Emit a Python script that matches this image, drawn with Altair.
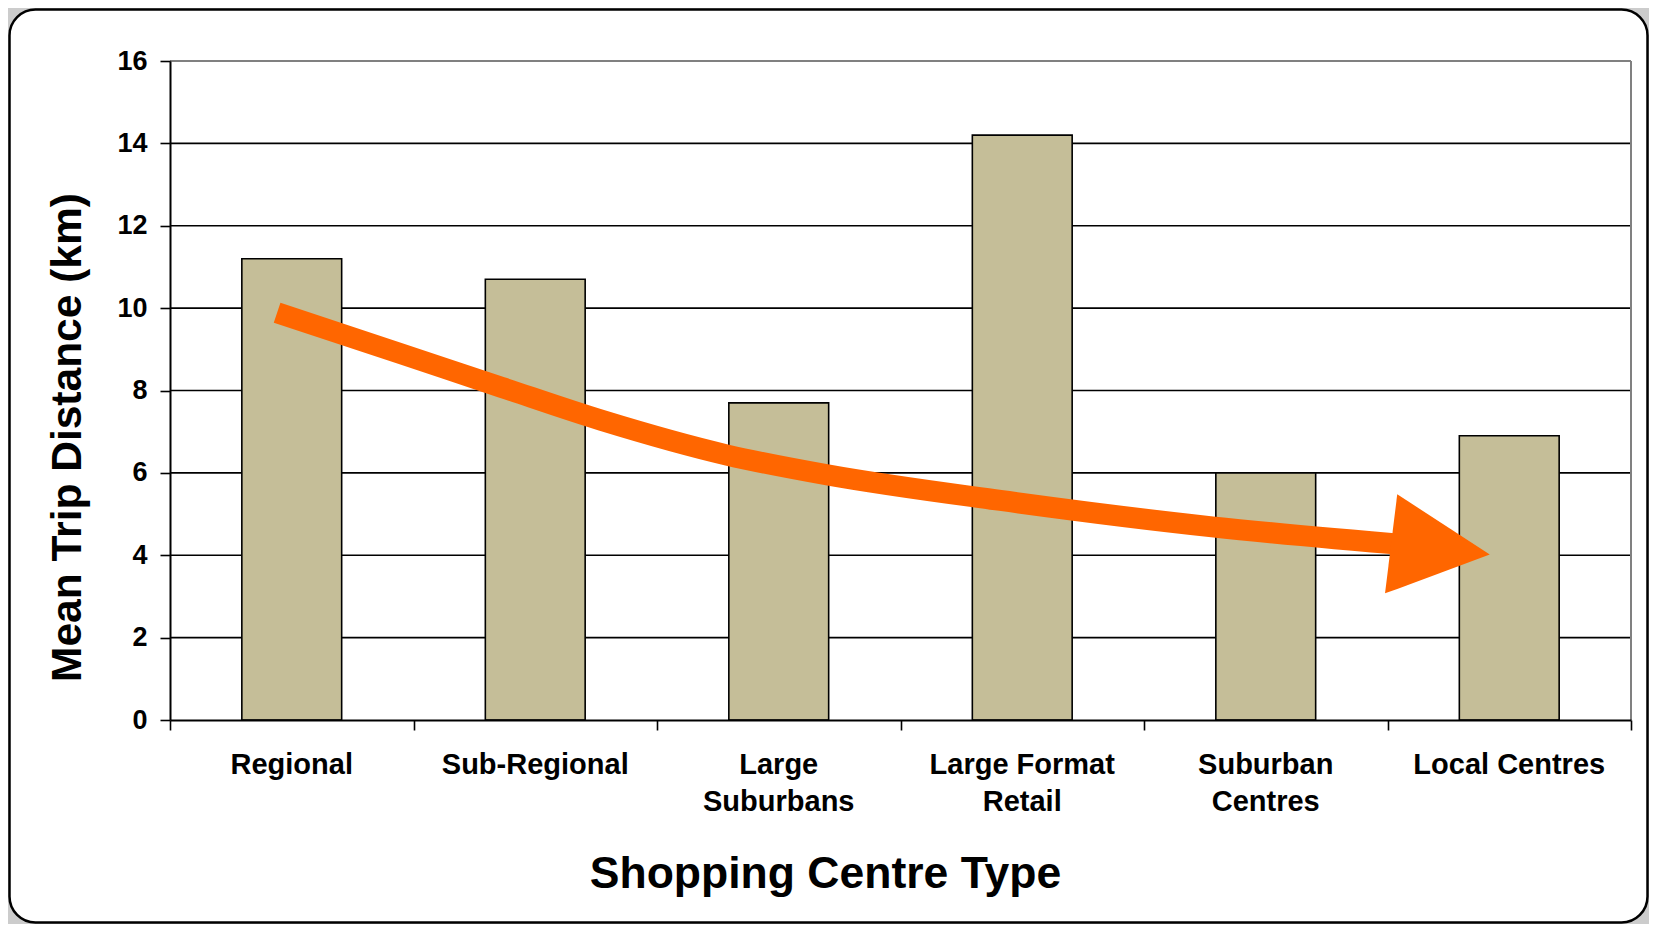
import altair as alt
import pandas as pd

# ---- data ----
categories = ["Regional", "Sub-Regional", "Large Suburbans", "Large Format Retail",
              "Suburban Centres", "Local Centres"]
label_lines = [["Regional"], ["Sub-Regional"], ["Large", "Suburbans"],
               ["Large Format", "Retail"], ["Suburban", "Centres"], ["Local Centres"]]
mean_km = [11.2, 10.7, 7.7, 14.2, 6.0, 6.9]

y_ticks = [0, 2, 4, 6, 8, 10, 12, 14, 16]
grid_values = [2, 4, 6, 8, 10, 12, 14]
top_value = [16]
x_span = [0, 6]          # category positions 0..6 (band edges) for the overlay arrow
x_edges = [0, 1, 2, 3, 4, 5, 6]
right_edge = [6]

# trend arrow (x in category units from the left edge, y in km)
arrow_x = [0.44, 0.95, 1.36, 1.77, 2.29, 2.70, 3.41, 4.28, 5.10]
arrow_y = [9.89, 8.89, 8.08, 7.28, 6.43, 5.95, 5.33, 4.69, 4.24]
head_x = [4.99, 5.04, 5.42]
head_lo = [3.08, 3.18, 4.02]
head_hi = [3.08, 5.48, 4.02]

FONT = "Liberation Sans"
W, H = 1461, 659

bars_df = pd.DataFrame({"category": categories, "km": mean_km})
arrow_df = pd.DataFrame({"x": arrow_x, "y": arrow_y})
head_df = pd.DataFrame({"x": head_x, "lo": head_lo, "hi": head_hi})

yscale = alt.Scale(domain=[0, 16], nice=False, zero=True)
xq = alt.Scale(domain=x_span, nice=False, zero=False)

y_axis = alt.Axis(
    title="Mean Trip Distance (km)", values=y_ticks, format="d",
    labelFont=FONT, labelFontSize=27, labelFontWeight="bold", labelColor="black",
    labelPadding=13, domainColor="black", domainWidth=2, tickColor="black",
    tickWidth=1.6, tickSize=10, grid=False, zindex=1,
    titleFont=FONT, titleFontSize=42.5, titleFontWeight="bold", titleColor="black",
    titleX=-103, titleY=376, titleAlign="center", titleBaseline="middle",
    titleAngle=270)

def Y(field):
    return alt.Y(field, scale=yscale, axis=y_axis, title="Mean Trip Distance (km)")

# multi-line labels
expr = "datum.value"
for c, lines in zip(categories, label_lines):
    arr = "[" + ",".join("'" + l + "'" for l in lines) + "]"
    expr = f"datum.value == '{c}' ? {arr} : ({expr})"

frame = alt.Chart(pd.DataFrame({"k": [0]})).mark_rect(
    fill="white", stroke="black", strokeWidth=2.5, cornerRadius=26
).encode(
    x=alt.value(-160.5), x2=alt.value(1477.5), y=alt.value(-51.5), y2=alt.value(861.5)
)

grid = alt.Chart(pd.DataFrame({"v": grid_values})).mark_rule(
    color="black", strokeWidth=1.6
).encode(y=Y("v:Q"))

top_border = alt.Chart(pd.DataFrame({"v": top_value})).mark_rule(
    color="#808080", strokeWidth=2
).encode(y=Y("v:Q"))

# right border + category-boundary ticks along the bottom
right_border = alt.Chart(pd.DataFrame({"x": right_edge})).mark_rule(
    color="#808080", strokeWidth=2
).encode(x=alt.X("x:Q", scale=xq, title=None,
                 axis=alt.Axis(orient="bottom", values=x_edges, labels=False, title=None,
                               domainColor="black", domainWidth=2, tickColor="black",
                               tickWidth=1.6, tickSize=10, grid=False, zindex=1)))

bars = alt.Chart(bars_df).mark_bar(
    color="#C5BE98", stroke="black", strokeWidth=1.6
).encode(
    x=alt.X("category:N", sort=categories,
            scale=alt.Scale(paddingInner=0.59, paddingOuter=0.295),
            axis=alt.Axis(
                orient="bottom",
                title="Shopping Centre Type", labelAngle=0, ticks=False, domain=False,
                labelExpr=expr, labelFont=FONT, labelFontSize=29, labelFontWeight="bold",
                labelColor="black", labelPadding=53, labelLineHeight=37, labelLimit=0,
                labelBaseline="alphabetic", grid=False, zindex=1,
                titleFont=FONT, titleFontSize=44.5, titleFontWeight="bold", titleColor="black",
                titleX=655, titleY=167, titleAlign="center", titleBaseline="alphabetic")),
    y=Y("km:Q"),
)

shaft = alt.Chart(arrow_df).mark_line(
    color="#FF6600", strokeWidth=21, interpolate="monotone", strokeCap="butt"
).encode(
    x=alt.X("x:Q", scale=xq, axis=None),
    y=Y("y:Q"),
)

head = alt.Chart(head_df).mark_area(color="#FF6600", opacity=1).encode(
    x=alt.X("x:Q", scale=xq, axis=None),
    y=Y("lo:Q"),
    y2="hi:Q",
)

chart = alt.layer(
    frame, grid, top_border, right_border, bars, shaft, head
).resolve_scale(x="independent").properties(
    width=W, height=H,
    autosize=alt.AutoSizeParams(type="none"),
    padding={"left": 162, "top": 53, "right": 18, "bottom": 204},
    background="#cccccc",
).configure_view(stroke=None)

chart.save("out.html", embed_options={"renderer": "svg", "actions": False})
